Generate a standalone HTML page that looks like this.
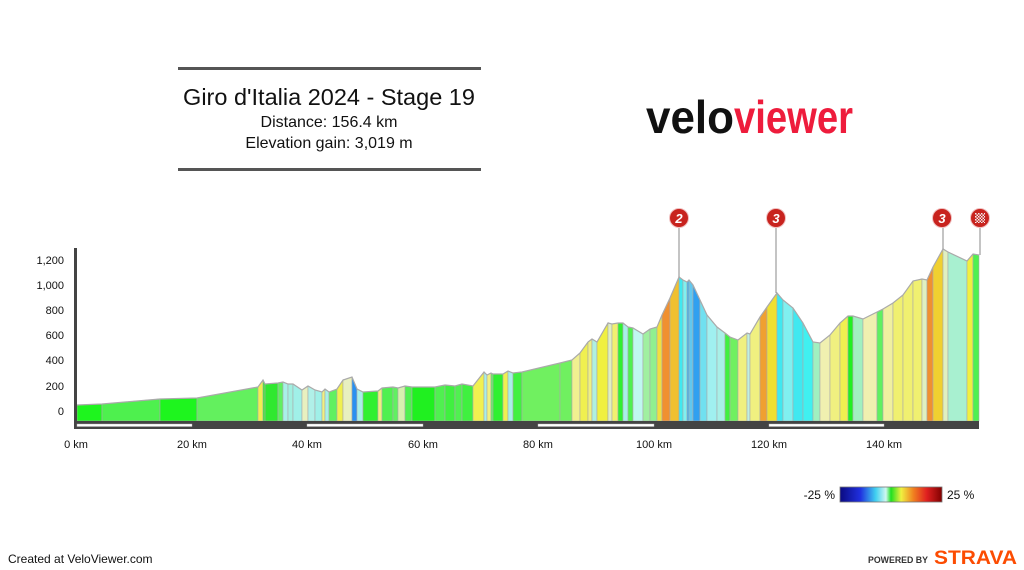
<!DOCTYPE html>
<html><head><meta charset="utf-8"><style>
html,body{margin:0;padding:0;background:#fff;}
svg{display:block;font-family:"Liberation Sans",Arial,sans-serif;}
</style></head><body>
<svg width="1024" height="570" viewBox="0 0 1024 570" xmlns="http://www.w3.org/2000/svg">
<defs>
<linearGradient id="gr" x1="0" x2="1" y1="0" y2="0">
<stop offset="0" stop-color="#0a0a80"/><stop offset="0.2" stop-color="#2030e0"/><stop offset="0.35" stop-color="#40d0f0"/><stop offset="0.45" stop-color="#d0f8f0"/><stop offset="0.5" stop-color="#20e020"/><stop offset="0.6" stop-color="#f0f040"/><stop offset="0.72" stop-color="#f08020"/><stop offset="0.85" stop-color="#e02020"/><stop offset="1" stop-color="#800000"/>
</linearGradient>
<pattern id="chk" width="3" height="3" patternUnits="userSpaceOnUse"><rect width="3" height="3" fill="#c8231e"/><rect width="1.5" height="1.5" fill="#eee"/><rect x="1.5" y="1.5" width="1.5" height="1.5" fill="#eee"/></pattern>
</defs>
<rect width="1024" height="570" fill="#fff"/>
<rect x="178" y="67" width="303" height="3" fill="#555"/>
<rect x="178" y="168" width="303" height="3" fill="#555"/>
<text x="329" y="105" font-size="23.5" text-anchor="middle" fill="#111">Giro d'Italia 2024 - Stage 19</text>
<text x="329" y="127" font-size="16" text-anchor="middle" fill="#111">Distance: 156.4 km</text>
<text x="329" y="148" font-size="16" text-anchor="middle" fill="#111">Elevation gain: 3,019 m</text>
<text x="646" y="133" font-size="46" font-weight="bold" textLength="88" lengthAdjust="spacingAndGlyphs" fill="#111">velo</text>
<text x="734" y="133" font-size="46" font-weight="bold" textLength="119" lengthAdjust="spacingAndGlyphs" fill="#ee1c3c">viewer</text>
<g font-size="11" text-anchor="end" fill="#111">
<text x="64" y="264">1,200</text><text x="64" y="289">1,000</text><text x="64" y="314">800</text><text x="64" y="339">600</text><text x="64" y="364">400</text><text x="64" y="390">200</text><text x="64" y="415">0</text>
</g>
<g id="prof" stroke="#aaa" stroke-width="0.6"></g>
<rect x="74" y="248" width="3" height="181" fill="#444"/>
<rect x="74" y="421" width="905" height="8" fill="#444"/>
<g fill="#fff" stroke="#bbb" stroke-width="0.4">
<rect x="77" y="424" width="115" height="2.5"/><rect x="307" y="424" width="116" height="2.5"/><rect x="538" y="424" width="116" height="2.5"/><rect x="769" y="424" width="115" height="2.5"/>
</g>
<g font-size="11" text-anchor="middle" fill="#111">
<text x="76" y="448">0 km</text><text x="192" y="448">20 km</text><text x="307" y="448">40 km</text><text x="423" y="448">60 km</text><text x="538" y="448">80 km</text><text x="654" y="448">100 km</text><text x="769" y="448">120 km</text><text x="884" y="448">140 km</text>
</g>
<g stroke="#888" stroke-width="1">
<line x1="679" y1="227" x2="679" y2="277"/><line x1="776" y1="227" x2="776" y2="293"/><line x1="943" y1="227" x2="943" y2="249"/><line x1="980" y1="227" x2="980" y2="255"/>
</g>
<g fill="#c8231e" stroke="#f0c0c0" stroke-width="1">
<circle cx="679" cy="218" r="9.5"/><circle cx="776" cy="218" r="9.5"/><circle cx="942" cy="218" r="9.5"/><circle cx="980" cy="218" r="9.5"/>
</g>
<g fill="#fff" font-size="13" font-weight="bold" text-anchor="middle" font-style="italic">
<text x="679" y="223">2</text><text x="776" y="223">3</text><text x="942" y="223">3</text>
</g>
<rect x="975" y="213" width="10" height="10" fill="url(#chk)"/>
<text x="835" y="499" font-size="12" text-anchor="end" fill="#111">-25 %</text>
<rect x="840" y="487" width="102" height="15" fill="url(#gr)" stroke="#777" stroke-width="0.8"/>
<text x="947" y="499" font-size="12" fill="#111">25 %</text>
<text x="8" y="563" font-size="12" fill="#111">Created at VeloViewer.com</text>
<text x="868" y="563" font-size="9.5" font-weight="bold" fill="#333" textLength="60" lengthAdjust="spacingAndGlyphs">POWERED BY</text>
<text x="934" y="564" font-size="19" font-weight="bold" fill="#fc4c02" textLength="83" lengthAdjust="spacingAndGlyphs">STRAVA</text>
</svg>
<script>
var P=[[77,405,"#1ef51e"],[102,404,"#4ef04e"],[160,399,"#1ef51e"],[197,398,"#63f05e"],[258,387,"#f0f050"],[263,380,"#30e830"],[265,384,"#30e830"],[278,383,"#60f060"],[283,382,"#a8f0e8"],[288,384,"#a0f0e0"],[293,384,"#a0f0e8"],[302,390,"#e8f0c0"],[308,386,"#b0f0e8"],[315,390,"#a0f0e8"],[322,392,"#f0f080"],[325,389,"#a8f0e8"],[329,392,"#60f060"],[337,389,"#f0f050"],[343,380,"#e8f0c0"],[352,377,"#2a90f0"],[357,389,"#a8f0e8"],[363,392,"#30f030"],[378,391,"#f0f080"],[382,388,"#50f050"],[393,387,"#60f060"],[398,388,"#d8f0b0"],[405,386,"#50f050"],[412,387,"#20f020"],[435,387,"#50f050"],[445,385,"#40f040"],[455,386,"#50f050"],[462,384,"#40f040"],[473,386,"#f0f050"],[484,372,"#a8f0e8"],[487,375,"#f0f080"],[491,373,"#60f060"],[493,374,"#30f030"],[503,374,"#f0f050"],[508,371,"#a8f0e8"],[513,373,"#40f040"],[522,372,"#70f060"],[560,363,"#70f060"],[572,360,"#f0f090"],[580,353,"#f0f050"],[588,342,"#f0f080"],[592,339,"#b0f0e0"],[597,342,"#f0f040"],[608,323,"#e0f0c0"],[612,324,"#f0f070"],[618,323,"#30f030"],[623,323,"#a8f0e8"],[628,327,"#50f050"],[633,328,"#c0f8f0"],[643,334,"#a0f0a0"],[650,329,"#90f090"],[657,327,"#f0e040"],[662,315,"#f09030"],[670,298,"#f0c030"],[679,277,"#40e8f0"],[683,280,"#7ff0f0"],[687,282,"#3cb0f0"],[689,280,"#60c8f0"],[693,285,"#30a0f0"],[700,300,"#70e0f0"],[707,315,"#a0f0f0"],[717,327,"#a8f0e8"],[725,333,"#40f040"],[730,337,"#70f060"],[738,340,"#f0f080"],[747,333,"#c0f0e0"],[750,334,"#f0f080"],[760,317,"#f0a030"],[767,307,"#f0e030"],[777,293,"#40e8f0"],[783,300,"#80f0f0"],[793,308,"#40e8f0"],[803,323,"#40f0f0"],[813,342,"#a0f0c0"],[820,343,"#f0f0b0"],[830,335,"#f0f080"],[840,323,"#f0f050"],[848,316,"#20f020"],[853,316,"#a0f0c0"],[863,319,"#f0f0b0"],[877,312,"#60f060"],[883,309,"#f0f0a0"],[893,303,"#f0f070"],[903,295,"#f0f070"],[913,281,"#f0f070"],[922,279,"#e0f0c0"],[927,280,"#f09030"],[933,267,"#f0d030"],[943,249,"#e0f0c0"],[948,252,"#a8f0d0"],[967,261,"#f0f040"],[973,254,"#50f050"],[979,255,""]];
var g=document.getElementById("prof"),s="";
for(var i=0;i<P.length-1;i++){var a=P[i],b=P[i+1];
s+='<polygon points="'+a[0]+',421 '+a[0]+','+a[1]+' '+b[0]+','+b[1]+' '+b[0]+',421" fill="'+a[2]+'"/>';}
g.innerHTML=s;
var pl=document.createElementNS("http://www.w3.org/2000/svg","polyline");
pl.setAttribute("points",P.map(function(p){return p[0]+","+p[1]}).join(" "));
pl.setAttribute("fill","none");pl.setAttribute("stroke","#aaa");pl.setAttribute("stroke-width","1.2");
g.appendChild(pl);
</script>
</body></html>
